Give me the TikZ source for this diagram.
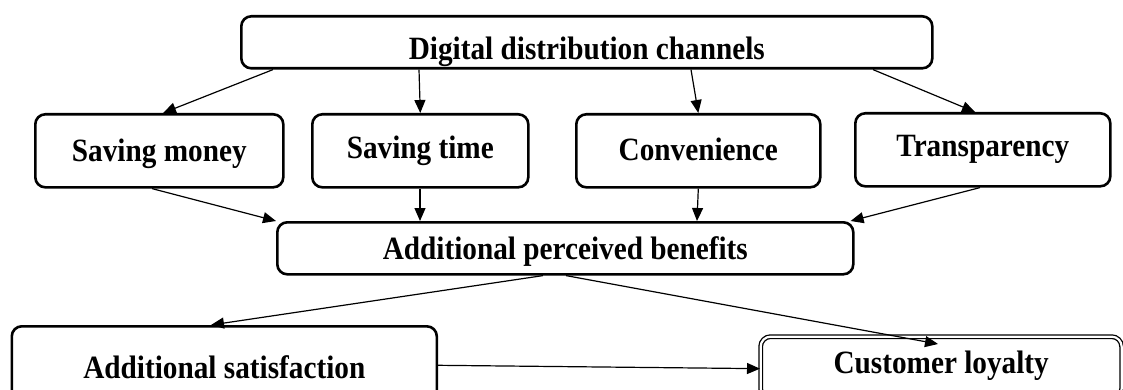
\documentclass[tikz,border=0pt]{standalone}
\usepackage{fontspec}
\setmainfont{Liberation Serif}[FakeStretch=0.9]
\usetikzlibrary{arrows.meta}
\tikzset{
  box/.style={draw, line width=2.6pt, rounded corners=10pt, inner sep=0pt,
    anchor=north west, font=\bfseries\fontsize{32.5}{38}\selectfont,
    text depth=0pt, text height=21.5pt},
  dblbox/.style={box, line width=1.3pt, double, double distance=2.2pt},
  arr/.style={-{Triangle[length=13pt,width=11pt]}, line width=1.2pt}
}
\begin{document}
\begin{tikzpicture}[x=1pt,y=-1pt]
\useasboundingbox (0,0) rectangle (1123,390);
\clip (0,0) rectangle (1123,390);
\node[box, minimum width=691pt, minimum height=52pt, text height=33.5pt] (dig) at (240,15) {Digital distribution channels};
\node[box, minimum width=248pt, minimum height=73pt, text height=20.5pt] (sm) at (34,113) {Saving money};
\node[box, minimum width=216pt, minimum height=73pt, text height=14.5pt] (st) at (311,113) {Saving time};
\node[box, minimum width=244pt, minimum height=73pt, text height=18.5pt] (cv) at (575,113) {Convenience};
\node[box, minimum width=255pt, minimum height=73pt, text height=12.5pt] (tr) at (854,112) {Transparency};
\node[box, minimum width=576pt, minimum height=52pt] (apb) at (276,221) {Additional perceived benefits};
\node[box, minimum width=425pt, minimum height=85pt, text height=18.5pt] (as) at (10.5,325) {Additional satisfaction};
\node[dblbox, minimum width=361pt, minimum height=62pt, text height=11.5pt] (cl) at (760,336) {Customer loyalty};

\draw[arr] ([xshift=33pt]dig.south west) -- ([xshift=129pt]sm.north west);
\draw[arr] ([xshift=179pt]dig.south west) -- (st.north);
\draw[arr] ([xshift=451pt]dig.south west) -- (cv.north);
\draw[arr] ([xshift=633pt]dig.south west) -- ([xshift=121pt]tr.north west);

\draw[arr] ([xshift=118pt]sm.south west) -- (apb.north west);
\draw[arr] ([xshift=109pt]st.south west) -- ([xshift=144pt]apb.north west);
\draw[arr] (cv.south) -- ([xshift=421pt]apb.north west);
\draw[arr] ([xshift=126pt]tr.south west) -- ([xshift=-4pt]apb.north east);

\draw[arr] ([xshift=267pt]apb.south west) -- ([xshift=200.5pt]as.north west);
\draw[arr] ([xshift=290pt]apb.south west) -- ([xshift=178pt,yshift=-8pt]cl.north west);
\draw[arr] ([yshift=3.5pt]as.east) -- ([yshift=-1pt]cl.west);
\end{tikzpicture}
\end{document}
